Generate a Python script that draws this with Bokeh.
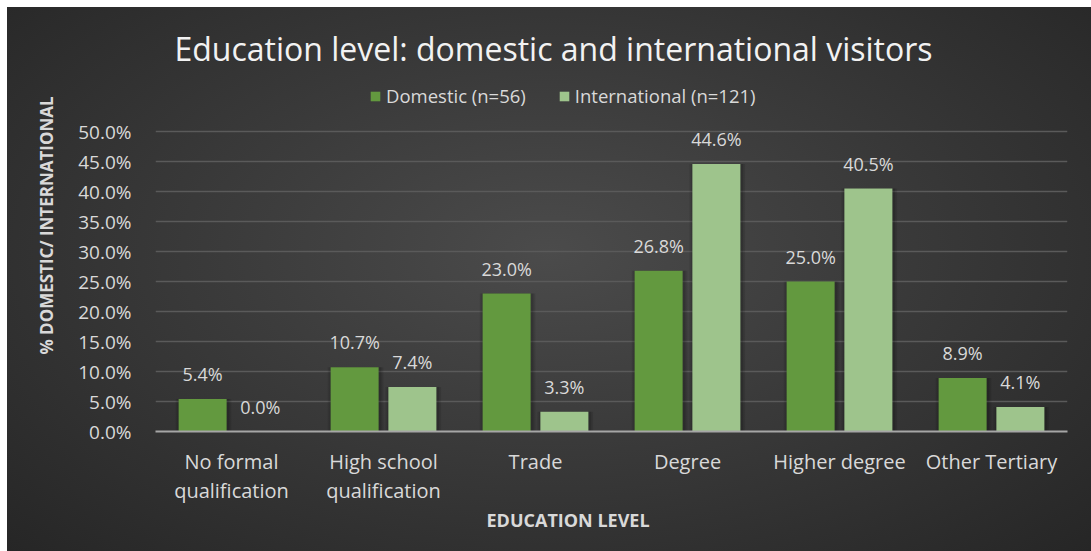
from bokeh.plotting import figure
from bokeh.models import (ColumnDataSource, Legend, LegendItem, LabelSet, Label, Title,
                          FixedTicker, PrintfTickFormatter)
from bokeh.core.properties import value
from bokeh.transform import dodge
from bokeh.embed import file_html
from bokeh.resources import INLINE

# Share of visitors by highest education level (%)
categories = ["No formal\nqualification", "High school\nqualification", "Trade",
              "Degree", "Higher degree", "Other Tertiary"]
domestic = [5.4, 10.7, 23.0, 26.8, 25.0, 8.9]
international = [0.0, 7.4, 3.3, 44.6, 40.5, 4.1]
y_ticks = [0, 5, 10, 15, 20, 25, 30, 35, 40, 45, 50]

FONT = "Open Sans"
TEXT = "#d9d9d9"
DOM_COLOR = "#63993f"
INT_COLOR = "#9ec48c"

src = ColumnDataSource(dict(
    cat=categories,
    dom=domestic,
    intl=international,
    dom_txt=[f"{v:.1f}%" for v in domestic],
    int_txt=[f"{v:.1f}%" for v in international],
))

# The value axis stops at 50%; the space above it holds the heading and legend.
p = figure(x_range=categories, y_range=(0, 68.67), width=1084, height=544,
           output_backend="svg", toolbar_location=None,
           min_border_left=148, min_border_right=24, min_border_top=12,
           min_border_bottom=120)

p.border_fill_alpha = 0
p.background_fill_alpha = 0
p.outline_line_color = None
p.styles = {"margin-left": "7px", "margin-top": "7px",
            "background": "radial-gradient(ellipse at 50% 45%, #4b4b4b 0%, #3a3a3a 45%, #262626 100%)"}

# Heading, centred on the whole chart
p.add_layout(Label(x=398, y=383, x_units="screen", y_units="screen",
                   text="Education level: domestic and international visitors",
                   text_align="center", text_baseline="middle",
                   text_font=FONT, text_font_size="32px", text_color="#f2f2f2"))

BAR_W = 0.316
OFF = 0.19

# soft drop shadow behind each bar
for top, off in (("dom", -OFF), ("intl", OFF)):
    for extra, alpha in ((0.05, 0.10), (0.025, 0.14)):
        p.vbar(x=dodge("cat", off + 0.006, range=p.x_range), top=top,
               width=BAR_W + extra, source=src, fill_color="black",
               fill_alpha=alpha, line_color=None)

r_dom = p.vbar(x=dodge("cat", -OFF, range=p.x_range), top="dom", width=BAR_W,
               source=src, fill_color=DOM_COLOR, line_color=None)
r_int = p.vbar(x=dodge("cat", OFF, range=p.x_range), top="intl", width=BAR_W,
               source=src, fill_color=INT_COLOR, line_color=None)

for field, top, off in (("dom_txt", "dom", -OFF), ("int_txt", "intl", OFF)):
    p.add_layout(LabelSet(x=dodge("cat", off, range=p.x_range), y=top, text=field,
                          source=src, text_align="center", text_baseline="middle",
                          y_offset=25, text_font=value(FONT), text_font_size="18px",
                          text_color=TEXT))

legend = Legend(items=[LegendItem(label="Domestic (n=56)", renderers=[r_dom]),
                       LegendItem(label="International (n=121)", renderers=[r_int])],
                orientation="horizontal", location=(214, 323),
                background_fill_alpha=0, border_line_color=None,
                label_text_font=FONT, label_text_font_size="18.5px",
                label_text_color=TEXT, glyph_width=12, glyph_height=12,
                label_standoff=5, spacing=32, padding=0, margin=0,
                label_height=20)
p.add_layout(legend)

# Axes
p.yaxis.ticker = FixedTicker(ticks=y_ticks)
p.yaxis.formatter = PrintfTickFormatter(format="%.1f%%")
p.yaxis.axis_line_color = None
p.yaxis.major_tick_line_color = None
p.yaxis.minor_tick_line_color = None
p.yaxis.major_label_standoff = 18
p.yaxis.major_label_text_font = FONT
p.yaxis.major_label_text_font_size = "19px"
p.yaxis.major_label_text_color = TEXT
p.yaxis.axis_label = "% DOMESTIC/ INTERNATIONAL"
p.yaxis.axis_label_text_font = FONT
p.yaxis.axis_label_text_font_size = "17px"
p.yaxis.axis_label_text_font_style = "bold"
p.yaxis.axis_label_text_color = TEXT
p.yaxis.axis_label_standoff = 17

p.xaxis.axis_line_color = "#a6a6a6"
p.xaxis.axis_line_width = 2
p.xaxis.major_tick_line_color = None
p.xaxis.minor_tick_line_color = None
p.xaxis.major_label_standoff = 10
p.xaxis.major_label_text_font = FONT
p.xaxis.major_label_text_font_size = "20px"
p.xaxis.major_label_text_line_height = 1.08
p.xaxis.major_label_text_color = TEXT

# Category-axis title, placed under the tick labels
p.add_layout(Title(text="EDUCATION LEVEL", align="left", offset=331,
                   vertical_align="middle", standoff=0,
                   text_font=FONT, text_font_size="18px", text_font_style="bold",
                   text_color=TEXT), "below")

p.xgrid.grid_line_color = None
p.ygrid.grid_line_color = "#5a5a5a"
p.ygrid.grid_line_width = 1.5

open("out.html", "w").write(file_html(p, INLINE))
